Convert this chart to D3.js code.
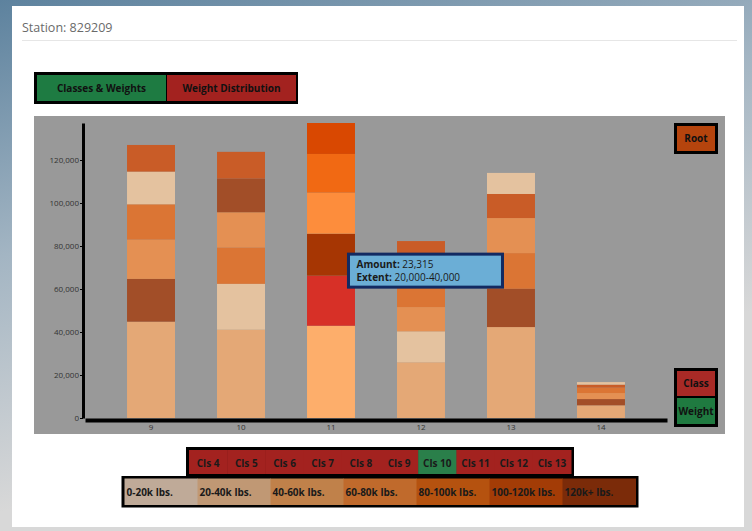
<!DOCTYPE html>
<html>
<head>
<meta charset="utf-8">
<script src="https://cdn.jsdelivr.net/npm/d3@7"></script>
<style>
  body { margin: 0; width: 752px; height: 531px; overflow: hidden;
         background: linear-gradient(165deg, #5d829e 0%, #a3b5c3 35%, #d8d8d8 70%);
         font-family: 'Open Sans', sans-serif; }
  .panel { position: absolute; left: 12px; top: 6px; width: 732px; height: 521px; background: #fff; }
  svg { position: absolute; left: 0; top: 0; }
</style>
</head>
<body>
<div class="panel"></div>
<script>
// groups on the x axis
const groups = ['9', '10', '11', '12', '13', '14'];

// weight extents and the colour each one gets in the bars
const extentNames = ['0-20,000', '20,000-40,000', '40,000-60,000', '60,000-80,000', '80,000-100,000', '100,000-120,000'];
const extentColors = ['#fdae6b', '#fdd0a2', '#a63603', '#fd8d3c', '#f16913', '#d94801'];

// amounts per group, in the order of extentNames
const amounts9  = [44800, 15200, 19900, 18300, 16400, 12400];
const amounts10 = [41100, 21300, 15700, 16400, 16900, 12400];
const amounts11 = [42900, 23315, 19500, 19100, 18000, 14400];
const amounts12 = [25900, 14400, 10200, 11300, 10800, 9700];
const amounts13 = [42300, 9800, 17800, 16300, 16600, 11200];
const amounts14 = [5900, 1200, 2900, 2800, 2600, 1300];
const amounts = [amounts9, amounts10, amounts11, amounts12, amounts13, amounts14];

// hovered segment (tooltip)
const hoverGroup = '11';
const hoverExtent = 1;

// legends
const classLabels = ['Cls 4', 'Cls 5', 'Cls 6', 'Cls 7', 'Cls 8', 'Cls 9', 'Cls 10', 'Cls 11', 'Cls 12', 'Cls 13'];
const activeClass = 'Cls 10';
const weightLabels = ['0-20k lbs.', '20-40k lbs.', '40-60k lbs.', '60-80k lbs.', '80-100k lbs.', '100-120k lbs.', '120k+ lbs.'];
const weightColors = ['#bfaa98', '#c09874', '#c0814a', '#c06a2c', '#b5520f', '#a33c06', '#7b2b09'];

const green = '#1e7b42', red = '#a3221f';

const svg = d3.select('body').append('svg')
    .attr('width', 752)
    .attr('height', 531)
    .style('font-family', "'Open Sans', sans-serif");

// header
svg.append('text')
    .attr('x', 22).attr('y', 32)
    .attr('font-size', 12.5).attr('fill', '#6a6a6a')
    .text('Station: 829209');
svg.append('line')
    .attr('x1', 22).attr('x2', 737).attr('y1', 40.5).attr('y2', 40.5)
    .attr('stroke', '#e6e6e6');

// top buttons
const tabs = svg.append('g');
tabs.append('rect').attr('x', 34).attr('y', 72).attr('width', 264).attr('height', 32).attr('fill', '#000');
tabs.append('rect').attr('x', 37).attr('y', 75).attr('width', 129).attr('height', 26).attr('fill', green);
tabs.append('rect').attr('x', 167).attr('y', 75).attr('width', 129).attr('height', 26).attr('fill', red);
tabs.append('text').attr('x', 101.5).attr('y', 88).attr('dy', '0.35em').attr('text-anchor', 'middle')
    .attr('font-size', 10).attr('font-weight', 'bold').attr('fill', '#111').text('Classes & Weights');
tabs.append('text').attr('x', 231.5).attr('y', 88).attr('dy', '0.35em').attr('text-anchor', 'middle')
    .attr('font-size', 10).attr('font-weight', 'bold').attr('fill', '#111').text('Weight Distribution');

// chart background
svg.append('rect').attr('x', 34).attr('y', 116).attr('width', 691).attr('height', 318).attr('fill', '#999');

// scales
const totals = amounts.map(a => d3.sum(a));
const xScale = d3.scaleBand()
    .domain(groups)
    .range([85, 667])
    .paddingInner(0.467)
    .paddingOuter(0.467);
const yScale = d3.scaleLinear()
    .domain([0, d3.max(totals)])
    .range([418, 123]);

// stack each bar, biggest amount at the bottom
const segs = [];
groups.forEach((g, i) => {
    const vals = amounts[i].map((v, j) => ({group: g, ext: j, amount: v}));
    vals.sort((a, b) => b.amount - a.amount);
    let acc = 0;
    vals.forEach(d => { d.y0 = acc; acc += d.amount; d.y1 = acc; segs.push(d); });
});

const isHover = d => d.group === hoverGroup && d.ext === hoverExtent;

svg.selectAll('.seg')
    .data(segs)
    .enter()
    .append('rect')
    .attr('class', 'seg')
    .attr('x', d => xScale(d.group))
    .attr('width', xScale.bandwidth())
    .attr('y', d => yScale(d.y1))
    .attr('height', d => yScale(d.y0) - yScale(d.y1))
    .attr('fill', d => isHover(d) ? '#d73027' : extentColors[d.ext])
    .attr('fill-opacity', d => d.group === hoverGroup ? 1 : 0.75);

// axes
const xAxis = d3.axisBottom(xScale).tickSize(0).tickPadding(4);
const gx = svg.append('g')
    .attr('transform', 'translate(0,420)')
    .call(xAxis);
gx.select('.domain').attr('stroke-width', 4);
gx.selectAll('text').attr('font-size', 8).attr('fill', '#333').attr('font-family', "'Open Sans', sans-serif");

const yAxis = d3.axisLeft(yScale).ticks(6).tickFormat(d3.format(',')).tickSize(3).tickPadding(1).tickSizeOuter(0);
const gy = svg.append('g')
    .attr('transform', 'translate(83,0)')
    .call(yAxis);
gy.select('.domain').attr('stroke-width', 3);
gy.selectAll('text').attr('font-size', 8).attr('fill', '#333').attr('font-family', "'Open Sans', sans-serif");

// right side buttons
const side = svg.append('g');
side.append('rect').attr('x', 674).attr('y', 123).attr('width', 44).attr('height', 31).attr('fill', '#000');
side.append('rect').attr('x', 677).attr('y', 126).attr('width', 38).attr('height', 25).attr('fill', '#b5440d');
side.append('text').attr('x', 696).attr('y', 138.5).attr('dy', '0.35em').attr('text-anchor', 'middle')
    .attr('font-size', 10).attr('font-weight', 'bold').attr('fill', '#111').text('Root');
side.append('rect').attr('x', 674).attr('y', 368).attr('width', 44).attr('height', 59).attr('fill', '#000');
side.append('rect').attr('x', 677).attr('y', 371).attr('width', 38).attr('height', 25).attr('fill', '#a82a26');
side.append('rect').attr('x', 677).attr('y', 398).attr('width', 38).attr('height', 26).attr('fill', '#1f7a40');
side.append('text').attr('x', 696).attr('y', 383.5).attr('dy', '0.35em').attr('text-anchor', 'middle')
    .attr('font-size', 10).attr('font-weight', 'bold').attr('fill', '#111').text('Class');
side.append('text').attr('x', 696).attr('y', 411).attr('dy', '0.35em').attr('text-anchor', 'middle')
    .attr('font-size', 10).attr('font-weight', 'bold').attr('fill', '#111').text('Weight');

// class legend
const classScale = d3.scaleBand().domain(classLabels).range([189, 571]);
const cls = svg.append('g');
cls.append('rect').attr('x', 186).attr('y', 447).attr('width', 388).attr('height', 30).attr('fill', '#000');
cls.selectAll('.cls-cell')
    .data(classLabels)
    .enter()
    .append('rect')
    .attr('x', d => classScale(d))
    .attr('y', 450)
    .attr('width', classScale.bandwidth() + 0.5)
    .attr('height', 24)
    .attr('fill', d => d === activeClass ? '#2a7f4a' : red);
cls.selectAll('.cls-text')
    .data(classLabels)
    .enter()
    .append('text')
    .attr('x', d => classScale(d) + classScale.bandwidth() / 2)
    .attr('y', 463)
    .attr('dy', '0.35em')
    .attr('text-anchor', 'middle')
    .attr('font-size', 10)
    .attr('font-weight', 'bold')
    .attr('fill', '#1a1a1a')
    .text(d => d);

// weight legend
const weightScale = d3.scaleBand().domain(weightLabels).range([124.5, 635.5]);
const wl = svg.append('g');
wl.append('rect').attr('x', 121.5).attr('y', 476).attr('width', 517).attr('height', 31.5).attr('fill', '#000');
wl.selectAll('.w-cell')
    .data(weightLabels)
    .enter()
    .append('rect')
    .attr('x', d => weightScale(d))
    .attr('y', 478.5)
    .attr('width', weightScale.bandwidth() + 0.5)
    .attr('height', 26.5)
    .attr('fill', (d, i) => weightColors[i]);
wl.selectAll('.w-text')
    .data(weightLabels)
    .enter()
    .append('text')
    .attr('x', d => weightScale(d) + 2)
    .attr('y', 492)
    .attr('dy', '0.35em')
    .attr('font-size', 10)
    .attr('font-weight', 'bold')
    .attr('fill', '#1a1a1a')
    .text(d => d);

// tooltip for the hovered segment
const hs = segs.find(isHover);
const tx = xScale(hoverGroup) + xScale.bandwidth() - 8;
const ty = yScale(hs.y1) - 23;
const tip = svg.append('g').attr('transform', `translate(${tx},${ty})`);
tip.append('rect')
    .attr('x', 1.5).attr('y', 1.5).attr('width', 154).attr('height', 33)
    .attr('fill', '#6baed6').attr('stroke', '#122a62').attr('stroke-width', 3);
const l1 = tip.append('text').attr('x', 9.5).attr('y', 15.5).attr('font-size', 10).attr('fill', '#1a1a1a');
l1.append('tspan').attr('font-weight', 'bold').text('Amount:');
l1.append('tspan').text(' ' + d3.format(',')(hs.amount));
const l2 = tip.append('text').attr('x', 9.5).attr('y', 28).attr('font-size', 10).attr('fill', '#1a1a1a');
l2.append('tspan').attr('font-weight', 'bold').text('Extent:');
l2.append('tspan').text(' ' + extentNames[hs.ext]);
</script>
</body>
</html>
